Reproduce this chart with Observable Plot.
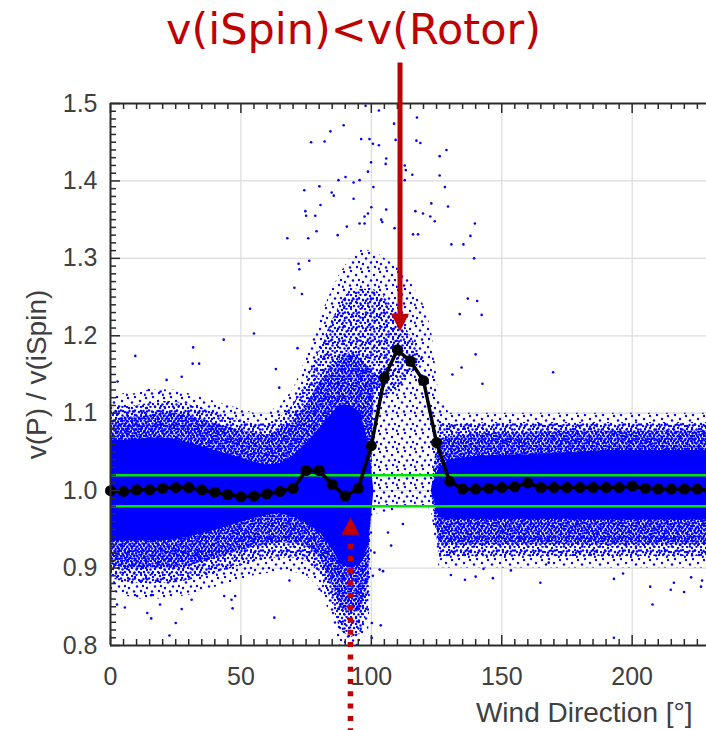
<!DOCTYPE html>
<html><head><meta charset="utf-8">
<script src="https://cdn.jsdelivr.net/npm/d3@7"></script>
<script src="https://cdn.jsdelivr.net/npm/@observablehq/plot@0.6"></script>
<style>
html,body{margin:0;padding:0;background:#fff;overflow:hidden}
#chart svg{display:block}
</style></head><body>
<svg width="0" height="0" style="position:absolute">
<defs>
<pattern id="sparseDots" width="18" height="18" patternUnits="userSpaceOnUse">
<g fill="#0000ff">
<circle cx="2" cy="2" r="1.2"/><circle cx="9" cy="1" r="1.2"/><circle cx="14" cy="5" r="1.2"/>
<circle cx="6" cy="6.5" r="1.2"/><circle cx="17" cy="10" r="1.2"/><circle cx="11" cy="10.5" r="1.2"/>
<circle cx="3" cy="12" r="1.2"/><circle cx="8" cy="15.5" r="1.2"/><circle cx="15" cy="15" r="1.2"/>
<circle cx="0.8" cy="16.8" r="1.2"/>
</g></pattern>
<pattern id="mediumDots" width="14" height="14" patternUnits="userSpaceOnUse">
<g fill="#0000ff">
<circle cx="1" cy="1" r="1.2"/><circle cx="6" cy="2" r="1.2"/><circle cx="10.5" cy="0.8" r="1.2"/>
<circle cx="3.5" cy="5" r="1.2"/><circle cx="9" cy="4.5" r="1.2"/><circle cx="13" cy="6" r="1.2"/>
<circle cx="1" cy="9" r="1.2"/><circle cx="6" cy="8" r="1.2"/><circle cx="10.5" cy="9.5" r="1.2"/>
<circle cx="4" cy="12" r="1.2"/><circle cx="8.5" cy="12.5" r="1.2"/><circle cx="13" cy="12" r="1.2"/>
<circle cx="7" cy="5.5" r="1.2"/><circle cx="2" cy="6.8" r="1.2"/>
</g></pattern>
<pattern id="denseDots" width="10" height="10" patternUnits="userSpaceOnUse">
<g fill="#0000ff">
<circle cx="1" cy="1" r="1.25"/><circle cx="4.5" cy="0.6" r="1.25"/><circle cx="8" cy="1.6" r="1.25"/>
<circle cx="2.5" cy="3.6" r="1.25"/><circle cx="6" cy="3.2" r="1.25"/><circle cx="9.4" cy="4.6" r="1.25"/>
<circle cx="0.6" cy="6.2" r="1.25"/><circle cx="4" cy="6" r="1.25"/><circle cx="7.4" cy="6.6" r="1.25"/>
<circle cx="2" cy="8.6" r="1.25"/><circle cx="5.6" cy="9" r="1.25"/><circle cx="9" cy="8.8" r="1.25"/>
</g></pattern>
</defs></svg>
<div id="chart"></div>
<script>
// ---- data ----
const meanX = [0,5,10,15,20,25,30,35,40,45,50,55,60,65,70,75,80,85,90,95,100,105,110,115,120,125,130,135,140,145,150,155,160,165,170,175,180,185,190,195,200,205,210,215,220,225,230];
const meanY = [1.000,0.999,1.001,1.001,1.003,1.004,1.004,1.001,0.998,0.995,0.992,0.993,0.996,0.999,1.003,1.026,1.026,1.008,0.993,1.003,1.058,1.146,1.182,1.167,1.142,1.062,1.012,1.002,1.002,1.003,1.004,1.005,1.010,1.004,1.004,1.004,1.004,1.004,1.004,1.004,1.006,1.003,1.002,1.002,1.002,1.002,1.000];

// envelope of the point cloud (sparse / medium / dense speckle and solid core)
const cloudX    = [0,5,10,15,20,25,30,35,40,45,50,55,60,65,70,75, 80,85,88,92,96,99, 101,105,110,115,120,123, 126, 130,135,140,145,150,155,160,165,170,175,180,185,190,195,200,205,210,215,220,225,230];
const sparseLo  = [.87,.865,.86,.86,.86,.862,.865,.87,.875,.88,.885,.89,.893,.895,.895,.89, .875,.835,.80,.80,.80,.82, .97,.97,.975,.98,.98,.975, .90, .90,.90,.90,.90,.90,.90,.90,.90,.90,.90,.90,.90,.90,.90,.90,.90,.90,.90,.90,.90,.90];
const mediumLo  = [.887,.882,.88,.88,.88,.881,.884,.888,.893,.898,.903,.908,.911,.913,.913,.909, .895,.855,.82,.81,.815,.85, 1.11,1.12,1.13,1.15,1.17,1.0, .915, .915,.915,.915,.915,.915,.915,.915,.915,.915,.915,.915,.915,.915,.915,.915,.915,.915,.915,.915,.915,.915];
const denseLo   = [.905,.90,.90,.90,.90,.90,.903,.907,.912,.917,.922,.927,.93,.932,.932,.928, .915,.88,.85,.84,.845,.88, 1.13,1.14,1.14,1.14,1.14,1.0, .93, .93,.93,.93,.93,.93,.93,.93,.93,.93,.93,.93,.93,.93,.93,.93,.93,.93,.93,.93,.93,.93];
const coreLo    = [.935,.935,.935,.935,.935,.937,.94,.944,.949,.954,.959,.964,.968,.97,.966,.958, .947,.925,.905,.90,.905,.93, 1.0,1.0,1.0,1.0,1.0,1.0, .965, .963,.963,.963,.963,.963,.963,.963,.963,.963,.963,.962,.962,.962,.962,.962,.962,.962,.962,.962,.962,.962];
const coreHi    = [1.065,1.065,1.066,1.068,1.068,1.066,1.062,1.057,1.052,1.047,1.042,1.037,1.033,1.035,1.045,1.06, 1.08,1.10,1.11,1.11,1.10,1.06, 1.0,1.0,1.0,1.0,1.0,1.0, 1.03, 1.04,1.042,1.044,1.045,1.045,1.046,1.046,1.047,1.048,1.049,1.05,1.051,1.052,1.052,1.052,1.052,1.052,1.052,1.052,1.052,1.052];
const denseHi   = [1.09,1.095,1.095,1.097,1.10,1.10,1.097,1.092,1.087,1.082,1.078,1.074,1.072,1.078,1.09,1.11, 1.14,1.16,1.17,1.18,1.17,1.16, 1.15,1.14,1.14,1.14,1.14,1.0, 1.065, 1.07,1.072,1.073,1.074,1.075,1.075,1.075,1.076,1.076,1.077,1.077,1.077,1.077,1.077,1.077,1.077,1.077,1.077,1.077,1.077,1.077];
const mediumHi  = [1.105,1.11,1.11,1.113,1.115,1.115,1.111,1.106,1.101,1.096,1.091,1.087,1.086,1.094,1.11,1.14, 1.18,1.22,1.24,1.26,1.26,1.26, 1.26,1.25,1.23,1.20,1.17,1.0, 1.09, 1.085,1.086,1.087,1.088,1.088,1.088,1.088,1.088,1.088,1.088,1.088,1.088,1.088,1.088,1.088,1.088,1.088,1.088,1.088,1.088,1.088];
const sparseHi  = [1.12,1.125,1.125,1.13,1.13,1.13,1.125,1.12,1.115,1.11,1.105,1.10,1.10,1.11,1.13,1.17, 1.22,1.26,1.28,1.30,1.31,1.31, 1.31,1.30,1.29,1.27,1.24,1.21, 1.12, 1.10,1.10,1.10,1.10,1.10,1.10,1.10,1.10,1.10,1.10,1.10,1.10,1.10,1.10,1.10,1.10,1.10,1.10,1.10,1.10,1.10];

// isolated points outside the envelope
const outX = [97.8,102.9,89.4,84.3,108.7,117.5,76.9,82.1,96.1,99.3,100.6,102.9,109.3,117.3,118.8,128.8,126.2,105.7,105.5,99.9,112.8,113.2,98.7,115.7,126.2,87.4,90.1,95.5,93.2,112.8,74.3,80.1,84.8,85.6,80.5,93.2,100.8,128.2,74.7,75,78.5,98.7,97.4,105.7,116.9,119.8,123,129.4,122.6,124.3,100,67.8,75.8,79,87.1,90.6,95.5,97.4,103.8,104.2,108.9,116,117.9,130.7,138,139.7,139.4,72.1,72.4,76.2,70.5,73.4,137,140.6,142.3,133.9,140,142.6,63.4,64.7,71.7,134.6,131.1,135.3,
  53.5,55,43.4,31.7,9.5,31.5,34,27.3,21.5,14.7,19.2,2.7,169.7,
  2.5,5.5,10.2,15.6,19,14.1,15.6,25,22.6,27.3,31.1,43.6,46.8,47.8,46.4,62.8,68.6,80.1,100.6,104.5,100.2,103.6,100.2,130.5,135.9,140,146.6,143,153.5,164.8,168,193,196.5,193,207.8,206.9,214.8,219.9,216,222.6,226.4,226.8,
  106.4,107.6,101.2,103.2,112.1];
const outY = [1.497,1.491,1.472,1.464,1.474,1.482,1.450,1.451,1.454,1.454,1.448,1.446,1.453,1.452,1.449,1.440,1.432,1.429,1.422,1.424,1.420,1.414,1.412,1.408,1.407,1.401,1.405,1.401,1.398,1.401,1.388,1.393,1.385,1.381,1.369,1.377,1.392,1.392,1.361,1.355,1.355,1.358,1.354,1.363,1.361,1.358,1.371,1.367,1.354,1.348,1.366,1.326,1.326,1.335,1.330,1.341,1.345,1.345,1.350,1.347,1.339,1.331,1.331,1.318,1.329,1.345,1.300,1.293,1.286,1.297,1.262,1.254,1.248,1.245,1.227,1.228,1.176,1.138,1.157,1.133,1.184,1.159,1.150,1.318,
  1.235,1.203,1.195,1.185,1.174,1.164,1.164,1.147,1.143,1.130,1.128,1.141,1.153,
  0.853,0.849,0.864,0.865,0.853,0.842,0.835,0.829,0.813,0.847,0.859,0.864,0.848,0.864,0.859,0.836,0.884,0.873,0.890,0.896,0.829,0.826,0.810,0.891,0.885,0.889,0.887,0.899,0.897,0.881,0.907,0.886,0.893,0.810,0.853,0.876,0.872,0.869,0.881,0.888,0.876,0.884,
  0.946,0.929,0.920,0.898,0.957];

const greenLevels = [1.02, 0.98];
const xMajor = [0, 50, 100, 150, 200];
const yMajor = [0.8, 0.9, 1.0, 1.1, 1.2, 1.3, 1.4, 1.5];

const titleText = "v(iSpin)<v(Rotor)";
const yLabel = "v(P) / v(iSpin)";
const xLabel = "Wind Direction [°]";

// annotation arrows (data coordinates)
const solidArrow = {x: 111, from: 1.553, tip: 1.206};
const dottedArrow = {x: 92, tip: 0.9657, to: 0.68};

// ---- layout ----
const W = 706, H = 730, ML = 110, MR = 0, MT = 103, MB = 85;
const xDomain = [0, 228.5], yDomain = [0.8, 1.5];
const pxPerY = (H - MT - MB) / (yDomain[1] - yDomain[0]);
const pxPerX = (W - ML - MR) / (xDomain[1] - xDomain[0]);
const ly = px => px / pxPerY;
const lx = px => px / pxPerX;

const cloud = cloudX.map((x, i) => ({x,
  sLo: sparseLo[i], sHi: sparseHi[i], mLo: mediumLo[i], mHi: mediumHi[i],
  dLo: denseLo[i], dHi: denseHi[i], cLo: coreLo[i], cHi: coreHi[i]}));
const mean = meanX.map((x, i) => ({x, y: meanY[i]}));
const outliers = outX.map((x, i) => ({x, y: outY[i]}));

const xMinor = d3.range(0, 230, 5).filter(v => !xMajor.includes(v));
const yMinor = d3.range(80, 151).map(v => v / 100).filter(v => !yMajor.some(m => Math.abs(m - v) < 1e-9));
const xGrid = xMajor.filter(v => v > 0);
const yGrid = yMajor.filter(v => v > 0.8 && v < 1.5);

const red = "#C00000";
const axisCol = "#2b2b2b";
const textCol = "#404040";

const headDown = {draw(ctx) { ctx.moveTo(-9, -17.5); ctx.lineTo(9, -17.5); ctx.lineTo(0, 0); ctx.closePath(); }};
const headUp = {draw(ctx) { ctx.moveTo(-9, 17.5); ctx.lineTo(9, 17.5); ctx.lineTo(0, 0); ctx.closePath(); }};

const chart = Plot.plot({
  width: W, height: H,
  marginLeft: ML, marginRight: MR, marginTop: MT, marginBottom: MB,
  x: {domain: xDomain},
  y: {domain: yDomain},
  style: {fontFamily: "'Liberation Sans', Arial, sans-serif", fontSize: "25px", background: "#fff", overflow: "visible"},
  marks: [
    Plot.ruleX(xGrid, {x: d => d, stroke: "#dcdcdc", strokeWidth: 1.2}),
    Plot.ruleY(yGrid, {y: d => d, stroke: "#dcdcdc", strokeWidth: 1.2}),
    Plot.areaY(cloud, {x: "x", y1: "sLo", y2: "sHi", fill: "url(#sparseDots)"}),
    Plot.areaY(cloud, {x: "x", y1: "mLo", y2: "mHi", fill: "url(#mediumDots)"}),
    Plot.areaY(cloud, {x: "x", y1: "dLo", y2: "dHi", fill: "url(#denseDots)"}),
    Plot.areaY(cloud, {x: "x", y1: "cLo", y2: "cHi", fill: "#0000ff"}),
    Plot.dot(outliers, {x: "x", y: "y", r: 1.3, fill: "#0000ff"}),
    Plot.ruleY(greenLevels, {y: d => d, stroke: "#00e600", strokeWidth: 2.5}),
    Plot.line(mean, {x: "x", y: "y", stroke: "#000", strokeWidth: 3.5}),
    Plot.dot(mean, {x: "x", y: "y", r: 5.5, fill: "#000"}),
    // frame
    Plot.ruleX([0], {x: d => d, y1: yDomain[0], y2: yDomain[1], stroke: axisCol, strokeWidth: 2}),
    Plot.ruleY([yDomain[0], yDomain[1]], {y: d => d, x1: 0, x2: xDomain[1], stroke: axisCol, strokeWidth: 2}),
    // inward ticks
    Plot.ruleX(xMinor, {x: d => d, y1: yDomain[0], y2: yDomain[0] + ly(6), stroke: axisCol, strokeWidth: 1.5}),
    Plot.ruleX(xMajor, {x: d => d, y1: yDomain[0], y2: yDomain[0] + ly(10), stroke: axisCol, strokeWidth: 1.5}),
    Plot.ruleX(xMinor, {x: d => d, y1: yDomain[1], y2: yDomain[1] - ly(6), stroke: axisCol, strokeWidth: 1.5}),
    Plot.ruleX(xMajor, {x: d => d, y1: yDomain[1], y2: yDomain[1] - ly(10), stroke: axisCol, strokeWidth: 1.5}),
    Plot.ruleY(yMinor, {y: d => d, x1: 0, x2: lx(6), stroke: axisCol, strokeWidth: 1.5}),
    Plot.ruleY(yMajor, {y: d => d, x1: 0, x2: lx(10), stroke: axisCol, strokeWidth: 1.5}),
    Plot.axisX(xMajor, {anchor: "bottom", tickSize: 0, tickPadding: 22, label: null, fill: textCol, fontSize: 25}),
    Plot.axisY(yMajor, {anchor: "left", tickSize: 0, tickPadding: 13, label: null, tickFormat: d3.format(".1f"), fill: textCol, fontSize: 25}),
    // labels
    Plot.text([yLabel], {text: d => d, frameAnchor: "left", dx: -73.5, rotate: -90, textAnchor: "middle", lineAnchor: "middle", fontSize: 28, fill: textCol}),
    Plot.text([xLabel], {text: d => d, frameAnchor: "bottom-right", dx: -14, dy: 76, textAnchor: "end", lineAnchor: "bottom", fontSize: 28, fill: textCol}),
    Plot.text([titleText], {text: d => d, frameAnchor: "top-left", dx: 243, dy: -60, textAnchor: "middle", lineAnchor: "bottom", fontSize: 43, fontFamily: "'DejaVu Sans', sans-serif", fill: red}),
    // solid arrow
    Plot.link([solidArrow], {x1: "x", x2: "x", y1: "from", y2: d => d.tip + ly(16), stroke: red, strokeWidth: 5}),
    Plot.dot([solidArrow], {x: "x", y: "tip", symbol: headDown, r: 10, fill: red, stroke: "none"}),
    // dotted arrow
    Plot.link([dottedArrow], {x1: "x", x2: "x", y1: d => d.tip - ly(26.5), y2: "to", stroke: red, strokeWidth: 5.5, strokeDasharray: "5,7.3", strokeLinecap: "butt"}),
    Plot.dot([dottedArrow], {x: "x", y: "tip", symbol: headUp, r: 10, fill: red, stroke: "none"})
  ]
});
document.getElementById("chart").appendChild(chart);
</script></body></html>
